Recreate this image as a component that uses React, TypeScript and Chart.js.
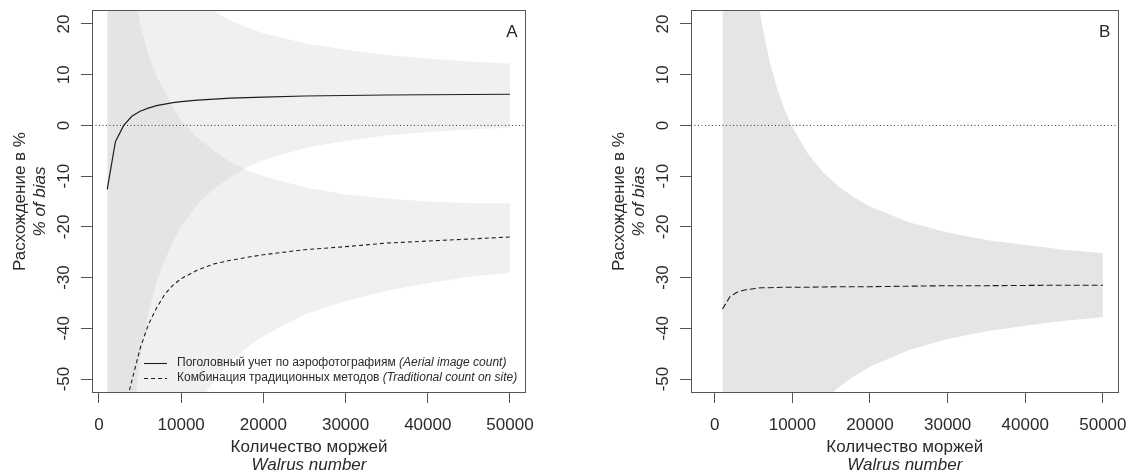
import React, { useEffect, useRef } from "react";
import { Chart, registerables } from "chart.js";

Chart.register(...registerables);

// ---------- data ----------
const walrusN = [1000, 2000, 3000, 4000, 5000, 6000, 7000, 8000, 9000, 10000, 12000, 14000, 16000, 18000, 20000, 25000, 30000, 35000, 40000, 45000, 50000];

// Panel A: aerial image count (solid) and its band
const aerialMeanA = [-12.6, -3.2, 0.0, 1.8, 2.8, 3.4, 3.9, 4.2, 4.5, 4.7, 5.0, 5.2, 5.4, 5.5, 5.6, 5.8, 5.9, 6.0, 6.05, 6.1, 6.15];
const aerialUpperA = [208.2, 108.2, 74.9, 58.2, 48.2, 41.5, 36.8, 33.2, 30.4, 28.2, 24.9, 22.5, 20.7, 19.3, 18.2, 16.2, 14.9, 13.9, 13.2, 12.6, 12.2];
const aerialLowerA = [-250, -130, -90, -60, -46, -37, -31, -26.5, -23, -20, -15.5, -12.5, -10.2, -8.3, -6.8, -4.5, -3.0, -2.0, -1.3, -0.8, -0.4];

// Panel A: traditional count on site (dashed) and its band
const tradMeanA = [-150, -80, -57, -50.3, -44, -39.3, -36, -33.3, -31.5, -30.2, -28.5, -27.3, -26.6, -26, -25.5, -24.5, -23.9, -23.2, -22.8, -22.4, -22.0];
const tradUpperA = [170, 80, 50, 29.7, 20, 14, 9.7, 6.7, 3.5, 1.0, -2.5, -5.0, -7.2, -8.8, -10.0, -12.2, -13.6, -14.4, -15.0, -15.3, -15.4];
const tradLowerA = [-470, -240, -164, -130, -108, -92.6, -81.7, -73.3, -67.1, -62.2, -55.2, -50.2, -46.6, -43.8, -41.5, -37.3, -34.6, -32.6, -31.1, -29.9, -29.0];

// Panel B: traditional count (dashed) and its band
const tradMeanB = [-36.2, -33.7, -32.8, -32.4, -32.2, -32.0, -32.0, -31.95, -31.9, -31.9, -31.9, -31.85, -31.8, -31.8, -31.8, -31.7, -31.6, -31.6, -31.55, -31.5, -31.5];
const tradUpperB = [279.8, 124.3, 72.5, 46.6, 31.0, 20.7, 13.1, 7.5, 3.2, -0.3, -5.6, -9.3, -12.1, -14.2, -16.0, -19.1, -21.1, -22.6, -23.6, -24.5, -25.2];
const tradLowerB = [-352.2, -191.7, -138.1, -111.4, -95.4, -84.7, -77.1, -71.4, -67.0, -63.5, -58.2, -54.4, -51.6, -49.4, -47.6, -44.3, -42.1, -40.6, -39.5, -38.5, -37.8];

const xTicks = [0, 10000, 20000, 30000, 40000, 50000];
const yTicks = [20, 10, 0, -10, -20, -30, -40, -50];

const yTitle = "Расхождение в %";
const yTitleEn = "% of bias";
const xTitle = "Количество моржей";
const xTitleEn = "Walrus number";
const legendMain = ["Поголовный учет по аэрофотографиям ", "Комбинация традиционных методов "];
const legendNote = ["(Aerial image count)", "(Traditional count on site)"];

// ---------- style ----------
const FONT = '"Liberation Sans", Arial, Helvetica, sans-serif';
const TEXT = "#2a2a2a";
const AXIS = "#555555";
const LINE = "#1e1e1e";
const BAND_A = "rgba(190,190,195,0.23)";
const BAND_B = "#e5e5e7";
const Y_MIN = -52.76;
const Y_MAX = 22.76;

const pts = (ys: number[]) => walrusN.map((x, i) => ({ x, y: ys[i] }));

type PanelSpec = {
  letter: string;
  xMin: number;
  xMax: number;
  yAxisWidth: number;
  padRight: number;
  legend: boolean;
  datasets: any[];
};

function overlayPlugin(spec: PanelSpec) {
  return {
    id: "overlay" + spec.letter,
    afterDraw(chart: any) {
      const { ctx, chartArea: a, scales } = chart;
      const ys = scales.y;
      ctx.save();
      // box
      ctx.strokeStyle = AXIS;
      ctx.lineWidth = 1;
      ctx.setLineDash([]);
      ctx.strokeRect(Math.round(a.left) + 0.5, Math.round(a.top) + 0.5, Math.round(a.right - a.left) - 1, Math.round(a.bottom - a.top) - 1);

      ctx.fillStyle = TEXT;
      // rotated y tick labels
      ctx.font = `17px ${FONT}`;
      ctx.textAlign = "center";
      ctx.textBaseline = "alphabetic";
      for (const v of yTicks) {
        const py = ys.getPixelForValue(v);
        ctx.save();
        ctx.translate(a.left - 29, py);
        ctx.rotate(-Math.PI / 2);
        ctx.fillText(String(v), 0, 17 * 0.358);
        ctx.restore();
      }
      // y titles
      const cy = (a.top + a.bottom) / 2;
      ctx.textBaseline = "middle";
      ctx.save();
      ctx.translate(a.left - 72, cy);
      ctx.rotate(-Math.PI / 2);
      ctx.font = `17px ${FONT}`;
      ctx.fillText(yTitle, 0, 0);
      ctx.restore();
      ctx.save();
      ctx.translate(a.left - 52, cy);
      ctx.rotate(-Math.PI / 2);
      ctx.font = `italic 17px ${FONT}`;
      ctx.fillText(yTitleEn, 0, 0);
      ctx.restore();
      // x titles
      const cx = (a.left + a.right) / 2;
      ctx.font = `17px ${FONT}`;
      ctx.fillText(xTitle, cx, 447);
      ctx.font = `italic 17px ${FONT}`;
      ctx.fillText(xTitleEn, cx, 465);
      // panel letter
      ctx.font = `17px ${FONT}`;
      ctx.fillText(spec.letter, a.right - 14, 32);

      // legend
      if (spec.legend) {
        const rows = [363, 378];
        const dashes = [[], [4, 3]];
        ctx.textAlign = "left";
        ctx.textBaseline = "middle";
        rows.forEach((ry, i) => {
          ctx.save();
          ctx.strokeStyle = LINE;
          ctx.lineWidth = 1.1;
          ctx.setLineDash(dashes[i]);
          ctx.beginPath();
          ctx.moveTo(a.left + 52, ry + 0.5);
          ctx.lineTo(a.left + 75, ry + 0.5);
          ctx.stroke();
          ctx.restore();
          const tx = a.left + 85;
          ctx.font = `12px ${FONT}`;
          ctx.fillText(legendMain[i], tx, ry);
          const w = ctx.measureText(legendMain[i]).width;
          ctx.font = `italic 12px ${FONT}`;
          ctx.fillText(legendNote[i], tx + w, ry);
        });
      }
      ctx.restore();
    },
  };
}

function makeConfig(spec: PanelSpec): any {
  const zeroLine = [
    { x: spec.xMin, y: 0 },
    { x: spec.xMax, y: 0 },
  ];
  return {
    type: "line",
    data: {
      datasets: [
        ...spec.datasets,
        { data: zeroLine, borderColor: "#333", borderWidth: 1, borderDash: [1, 2.5], fill: false, order: 1 },
      ],
    },
    options: {
      animation: false,
      responsive: false,
      events: [],
      parsing: true,
      elements: { point: { radius: 0 }, line: { tension: 0 } },
      layout: { autoPadding: false, padding: { left: 0, top: 10, right: spec.padRight, bottom: 0 } },
      plugins: { legend: { display: false }, tooltip: { enabled: false } },
      scales: {
        x: {
          type: "linear",
          min: spec.xMin,
          max: spec.xMax,
          afterBuildTicks: (s: any) => {
            s.ticks = xTicks.map((v) => ({ value: v }));
          },
          afterFit: (s: any) => {
            s.height = 83;
          },
          grid: { display: true, drawOnChartArea: false, drawTicks: true, tickLength: 10, color: AXIS, lineWidth: 1 },
          border: { display: false },
          ticks: {
            autoSkip: false,
            maxRotation: 0,
            minRotation: 0,
            padding: 12,
            color: TEXT,
            font: { family: FONT, size: 17 },
            callback: (v: any) => String(v),
          },
        },
        y: {
          type: "linear",
          min: Y_MIN,
          max: Y_MAX,
          afterBuildTicks: (s: any) => {
            s.ticks = yTicks.map((v) => ({ value: v }));
          },
          afterFit: (s: any) => {
            s.width = spec.yAxisWidth;
          },
          grid: { display: true, drawOnChartArea: false, drawTicks: true, tickLength: 11, color: AXIS, lineWidth: 1 },
          border: { display: false },
          ticks: { display: false },
        },
      },
    },
    plugins: [overlayPlugin(spec)],
  };
}

const band = (color: string) => ({ borderWidth: 0, borderColor: "rgba(0,0,0,0)", backgroundColor: color, order: 5 });

const specA: PanelSpec = {
  letter: "A",
  xMin: -850,
  xMax: 51950,
  yAxisWidth: 92,
  padRight: 40,
  legend: true,
  datasets: [
    { data: pts(aerialMeanA), borderColor: LINE, borderWidth: 1.2, fill: false, order: 0 },
    { data: pts(tradMeanA), borderColor: LINE, borderWidth: 1.1, borderDash: [4, 3], fill: false, order: 0 },
    { data: pts(aerialLowerA), ...band(BAND_A), fill: false },
    { data: pts(aerialUpperA), ...band(BAND_A), fill: "-1" },
    { data: pts(tradLowerA), ...band(BAND_A), fill: false },
    { data: pts(tradUpperA), ...band(BAND_A), fill: "-1" },
  ],
};

const specB: PanelSpec = {
  letter: "B",
  xMin: -3050,
  xMax: 52030,
  yAxisWidth: 125,
  padRight: 13,
  legend: false,
  datasets: [
    { data: pts(tradMeanB), borderColor: LINE, borderWidth: 1.1, borderDash: [6, 3], fill: false, order: 0 },
    { data: pts(tradLowerB), ...band(BAND_B), fill: false },
    { data: pts(tradUpperB), ...band(BAND_B), fill: "-1" },
  ],
};

function Panel({ spec, left, width }: { spec: PanelSpec; left: number; width: number }) {
  const ref = useRef<HTMLCanvasElement | null>(null);
  useEffect(() => {
    if (!ref.current) return;
    const chart = new Chart(ref.current, makeConfig(spec));
    return () => chart.destroy();
  }, [spec]);
  return (
    <canvas
      ref={ref}
      width={width}
      height={476}
      style={{ position: "absolute", left, top: 0, width, height: 476 }}
    />
  );
}

export default function App() {
  return (
    <div style={{ position: "absolute", left: 0, top: 0, width: 1139, height: 476, background: "#ffffff", overflow: "hidden" }}>
      <Panel spec={specA} left={0} width={566} />
      <Panel spec={specB} left={566} width={573} />
    </div>
  );
}
